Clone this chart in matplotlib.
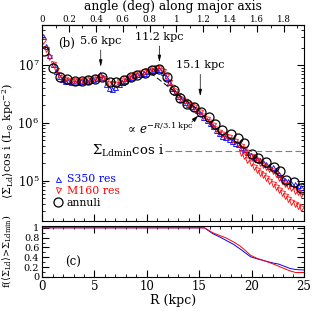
import numpy as np
import matplotlib
matplotlib.use("Agg")
import matplotlib.pyplot as plt
from matplotlib.ticker import MultipleLocator, LogLocator, NullFormatter

plt.rcParams['font.family'] = ['DejaVu Serif']
plt.rcParams['mathtext.fontset'] = 'dejavuserif'

KPC_PER_DEG = 12.83

# annuli (black circles), log10 of <Sigma_Ld> cos i
annuli_R = [0.19, 1.08, 1.72, 2.35, 3.15, 3.8, 4.4, 5.05, 5.75, 6.5, 7.1, 7.8,
            8.46, 9.1, 9.83, 10.5, 11.2, 11.9, 12.6, 13.2, 13.8, 14.5, 15.2,
            15.9, 16.55, 17.2, 18.0, 18.7, 19.3, 20.0, 20.65, 21.35, 22.1,
            22.7, 23.3, 24.05, 24.75]
annuli_log = [7.25, 6.94, 6.80, 6.75, 6.73, 6.73, 6.74, 6.76, 6.79, 6.70, 6.71,
              6.74, 6.79, 6.83, 6.86, 6.91, 6.93, 6.79, 6.57, 6.43, 6.33, 6.27,
              6.18, 6.10, 5.98, 5.87, 5.81, 5.74, 5.65, 5.46, 5.39, 5.32, 5.24,
              5.17, 5.01, 4.97, 4.87]

# S350 resolution pixels (blue), R = 0.1, 0.4, 0.7, ...
s350_log = [7.50, 7.33, 7.17, 7.02, 6.90, 6.81, 6.76, 6.73, 6.72, 6.71, 6.71,
            6.71, 6.72, 6.72, 6.73, 6.74, 6.75, 6.78, 6.84, 6.80, 6.68, 6.60,
            6.58, 6.62, 6.67, 6.71, 6.74, 6.77, 6.79, 6.82, 6.84, 6.85, 6.87,
            6.89, 6.91, 6.92, 6.93, 6.93, 6.88, 6.80, 6.70, 6.61, 6.54, 6.47,
            6.41, 6.36, 6.32, 6.29, 6.26, 6.22, 6.17, 6.10, 6.05, 6.00, 5.95,
            5.88, 5.82, 5.78, 5.75, 5.72, 5.69, 5.66, 5.63, 5.59, 5.55, 5.50,
            5.45, 5.41, 5.38, 5.35, 5.32, 5.29, 5.26, 5.23, 5.18, 5.12, 5.07,
            5.02, 4.99, 4.96, 4.94, 4.92, 4.89]

# M160 resolution pixels (red), same radii
m160_log = [7.42, 7.28, 7.14, 7.02, 6.91, 6.83, 6.78, 6.75, 6.73, 6.72, 6.72,
            6.72, 6.73, 6.73, 6.74, 6.75, 6.76, 6.78, 6.80, 6.78, 6.72, 6.68,
            6.67, 6.68, 6.71, 6.73, 6.75, 6.78, 6.80, 6.83, 6.85, 6.86, 6.88,
            6.90, 6.92, 6.93, 6.94, 6.94, 6.89, 6.81, 6.71, 6.62, 6.55, 6.48,
            6.42, 6.37, 6.33, 6.30, 6.27, 6.23, 6.18, 6.12, 6.07, 6.02, 5.97,
            5.90, 5.85, 5.81, 5.78, 5.75, 5.71, 5.68, 5.64, 5.60, 5.55, 5.49,
            5.43, 5.39, 5.35, 5.31, 5.27, 5.24, 5.20, 5.16, 5.11, 5.05, 5.00,
            4.95, 4.91, 4.87, 4.83, 4.80, 4.77]
# lower scatter of M160 in the outskirts, R = 19.0, 19.3, ...
m160_low_log = [5.48, 5.42, 5.36, 5.30, 5.24, 5.19, 5.14, 5.09, 5.04, 4.99,
                4.94, 4.89, 4.84, 4.79, 4.74, 4.69, 4.64, 4.60, 4.56, 4.53]

s350_R = 0.1 + 0.3 * np.arange(len(s350_log))
m160_R = 0.1 + 0.3 * np.arange(len(m160_log))
m160_low_R = 19.0 + 0.3 * np.arange(len(m160_low_log))

sigma_min = 3.3e5
exp_scale = 3.1

# fraction of pixels above Sigma_Ldmin
frac_R_blue = [0, 15.5, 16.3, 17.0, 17.6, 18.3, 18.9, 19.4, 19.9, 20.5, 21.2,
               22.1, 22.6, 23.2, 23.7, 24.2, 25.0]
frac_blue = [1.0, 1.0, 0.88, 0.81, 0.74, 0.66, 0.57, 0.49, 0.41, 0.37, 0.33,
             0.28, 0.26, 0.21, 0.17, 0.15, 0.14]
frac_R_red = [0, 15.5, 16.3, 17.0, 17.6, 18.3, 18.9, 19.5, 19.9, 20.5, 21.2,
              22.1, 23.0, 23.7, 24.2, 25.0]
frac_red = [1.0, 1.0, 0.90, 0.84, 0.79, 0.71, 0.63, 0.52, 0.44, 0.38, 0.33,
            0.26, 0.18, 0.12, 0.09, 0.09]

fig = plt.figure(figsize=(3.14, 3.15), dpi=100)
ax = fig.add_axes([0.134, 0.298, 0.834, 0.624])
ax2 = fig.add_axes([0.134, 0.121, 0.834, 0.162])

ax.plot(s350_R, 10**np.array(s350_log), ls='none', marker='^', ms=3.6,
        mfc='none', mec='blue', mew=0.6, label='S350 res')
ax.plot(m160_R, 10**np.array(m160_log), ls='none', marker='v', ms=3.6,
        mfc='none', mec='red', mew=0.6, label='M160 res')
ax.plot(m160_low_R, 10**np.array(m160_low_log), ls='none', marker='v', ms=3.6,
        mfc='none', mec='red', mew=0.6)
ax.plot(annuli_R, 10**np.array(annuli_log), ls='none', marker='o', ms=6.5,
        mfc='none', mec='black', mew=0.9, label='annuli')

# exponential fit
Rfit = np.linspace(10.3, 15.0, 50)
ax.plot(Rfit, 10**6.87 * np.exp(-(Rfit - 10.3) / exp_scale), color='black',
        lw=0.7, dashes=(6, 3))

# Sigma_Ldmin line
ax.plot([11.7, 25], [sigma_min, sigma_min], color='gray', lw=0.8, dashes=(6, 3))
ax.text(11.6, sigma_min, r'$\Sigma_{\rm Ldmin}$cos i', ha='right',
        va='center', fontsize=9.5)

ax.text(11.2, 10**5.89, r'$\propto\,e^{-R/3.1\,{\rm kpc}}$', ha='center',
        va='center', fontsize=8.5)
ax.annotate('', xy=(15.1, 10**6.16), xytext=(14.1, 10**5.98),
            arrowprops=dict(arrowstyle='-|>,head_length=0.4,head_width=0.12',
                            color='black', lw=0.5))

for Rk, ylab, ytip, lab in [(5.6, 10**7.33, 10**6.97, '5.6 kpc'),
                            (11.2, 10**7.40, 10**7.05, '11.2 kpc'),
                            (15.1, 10**6.91, 10**6.46, '15.1 kpc')]:
    ax.annotate(lab, xy=(Rk, ytip), xytext=(Rk, ylab), ha='center', va='bottom',
                fontsize=8,
                arrowprops=dict(arrowstyle='-|>,head_length=0.5,head_width=0.12',
                                color='black', lw=0.5, shrinkA=1, shrinkB=0))

ax.text(2.3, 10**7.38, '(b)', fontsize=8.5, ha='center', va='center')

ax.set_yscale('log')
ax.set_xlim(0, 25)
ax.set_ylim(2.0e4, 5.0e7)
ax.set_ylabel(r'$\langle\Sigma_{\rm Ld}\rangle$cos i (L$_{\odot}$ kpc$^{-2}$)',
              fontsize=8)
ax.yaxis.set_label_coords(-0.098, 0.41)
ax.xaxis.set_major_locator(MultipleLocator(5))
ax.xaxis.set_minor_locator(MultipleLocator(1))
ax.yaxis.set_minor_locator(LogLocator(subs=np.arange(2, 10)))
ax.yaxis.set_minor_formatter(NullFormatter())
ax.tick_params(which='both', direction='in', top=False, right=True,
               labelsize=8.5, labelbottom=False, pad=2)
ax.tick_params(which='major', length=5)
ax.tick_params(which='minor', length=2.5)

top = ax.secondary_xaxis('top', functions=(lambda r: r / KPC_PER_DEG,
                                           lambda a: a * KPC_PER_DEG))
top.xaxis.set_major_locator(MultipleLocator(0.2))
top.xaxis.set_minor_locator(MultipleLocator(0.1))
top.tick_params(which='both', direction='in', labelsize=6.2, pad=0.5)
top.tick_params(which='major', length=5)
top.tick_params(which='minor', length=2.5)
top.set_xticks([0, 0.2, 0.4, 0.6, 0.8, 1, 1.2, 1.4, 1.6, 1.8],
               ['0', '0.2', '0.4', '0.6', '0.8', '1', '1.2', '1.4', '1.6', '1.8'])
fig.text(0.551, 1.0, 'angle (deg) along major axis', fontsize=8.8,
         ha='center', va='top')

leg = ax.legend(loc='lower left', frameon=False, fontsize=7.8,
                handlelength=0.6, handletextpad=0.5, borderaxespad=0.3,
                labelspacing=0.15, labelcolor=['blue', 'red', 'black'],
                bbox_to_anchor=(0.02, 0.03))

ax2.plot(frac_R_blue, frac_blue, color='blue', lw=0.7)
ax2.plot(frac_R_red, frac_red, color='red', lw=0.7)
ax2.text(3.0, 0.3, '(c)', fontsize=8.5, ha='center', va='center')
ax2.set_xlim(0, 25)
ax2.set_ylim(0, 1.04)
ax2.xaxis.set_major_locator(MultipleLocator(5))
ax2.xaxis.set_minor_locator(MultipleLocator(1))
ax2.yaxis.set_major_locator(MultipleLocator(0.2))
ax2.yaxis.set_minor_locator(MultipleLocator(0.1))
ax2.set_yticks([0, 0.2, 0.4, 0.6, 0.8, 1], ['0', '0.2', '0.4', '0.6', '0.8', '1'])
ax2.tick_params(which='both', direction='in', top=True, right=True, pad=2)
ax2.tick_params(axis='x', labelsize=8.5)
ax2.tick_params(axis='y', labelsize=7)
ax2.tick_params(which='major', length=5)
ax2.tick_params(which='minor', length=2.5)
ax2.set_xlabel('R (kpc)', fontsize=9, labelpad=1)
ax2.set_ylabel(r'f($\langle\Sigma_{\rm Ld}\rangle$>$\Sigma_{\rm Ldmin}$)',
               fontsize=7)
ax2.yaxis.set_label_coords(-0.11, 0.5)

fig.savefig('out.png', dpi=100)
